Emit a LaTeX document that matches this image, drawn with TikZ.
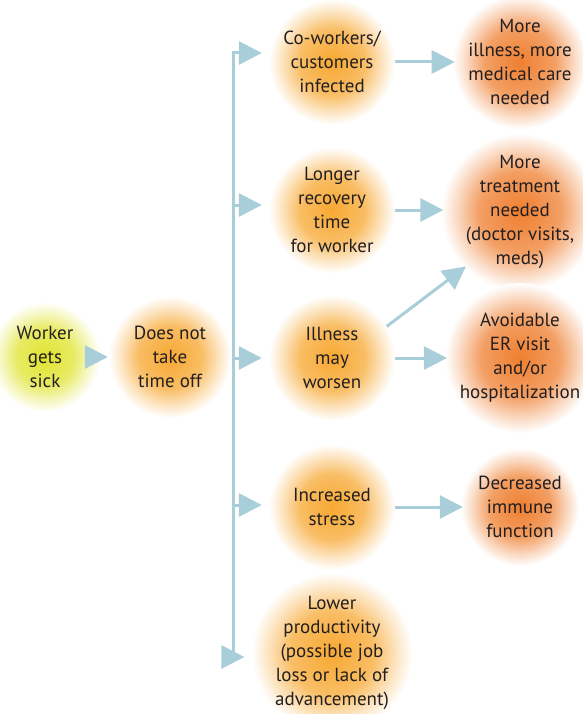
\documentclass[tikz,border=0pt]{standalone}
\usepackage{fontspec}
\setmainfont{PT Sans}
\usepackage{xcolor}
\usetikzlibrary{arrows.meta, positioning}
\definecolor{flowblue}{HTML}{A8CEDA}
\definecolor{inktext}{HTML}{231F20}
\definecolor{lime}{HTML}{E0E430}
\definecolor{amber}{HTML}{F7A832}
\definecolor{tangerine}{HTML}{EF7F30}
\colorlet{limemid}{lime!75!white}
\colorlet{ambermid}{amber!75!white}
\colorlet{tangerinemid}{tangerine!75!white}
\colorlet{limeedge}{lime!30!white}
\colorlet{amberedge}{amber!30!white}
\colorlet{tangerineedge}{tangerine!30!white}
\pgfdeclareradialshading{glowlime}{\pgfpoint{0bp}{0bp}}{color(0bp)=(lime); color(13bp)=(limemid); color(20bp)=(limeedge); color(25bp)=(white); color(50bp)=(white)}
\pgfdeclareradialshading{glowamber}{\pgfpoint{0bp}{0bp}}{color(0bp)=(amber); color(13bp)=(ambermid); color(20bp)=(amberedge); color(25bp)=(white); color(50bp)=(white)}
\pgfdeclareradialshading{glowtangerine}{\pgfpoint{0bp}{0bp}}{color(0bp)=(tangerine); color(13bp)=(tangerinemid); color(20bp)=(tangerineedge); color(25bp)=(white); color(50bp)=(white)}
\tikzset{
  glow/.style = {circle, align=center, inner sep=0pt, text=inktext,
    font=\fontsize{19}{24}\selectfont},
  start/.style = {glow, shading=glowlime, minimum size=110pt},
  cause/.style = {glow, shading=glowamber, minimum size=126pt},
  effect/.style = {glow, shading=glowtangerine, minimum size=118pt},
  flow/.style = {draw=flowblue, line width=3pt,
    -{Triangle[length=23pt, width=23pt]}},
  branch/.style = {flow, shorten >=7pt}
}
\begin{document}
\begin{tikzpicture}[x=1pt, y=-1pt]
\useasboundingbox (0,0) rectangle (582,714);

\node [start] (sick) at (45,357) {Worker\\gets\\sick};
\node [cause, minimum size=122pt] (nooff) at (170,357) {Does not\\take\\time off};

\node [cause] (infect) at (332,62) {Co-workers/\\customers\\infected};
\node [cause] (recov) at (332,210) {Longer\\recovery\\time\\for worker};
\node [cause] (worse) at (332,358) {Illness\\may\\worsen};
\node [cause] (stress) at (332,507) {Increased\\stress};
\node [cause] (prod) at (332,653) {Lower\\productivity\\(possible job\\loss or lack of\\advancement)};

\node [effect] (care) at (520,62) {More\\illness, more\\medical care\\needed};
\node [effect] (treat) at (520,212) {More\\treatment\\needed\\(doctor visits,\\meds)};
\node [effect] (er) at (520,358) {Avoidable\\ER visit\\and/or\\hospitalization};
\node [effect] (immune) at (520,507) {Decreased\\immune\\function};

\coordinate (ttop) at (233,53);
\coordinate (tbot) at (233,657);

\draw [flow, shorten <=0pt, shorten >=1pt] (sick) -- (nooff);
\draw [draw=flowblue, line width=3pt, {Triangle[length=23pt, width=23pt]}-{Triangle[length=23pt, width=23pt]}, shorten <=7pt, shorten >=7pt]
  (ttop -| infect.west) -- (ttop) -- (tbot) -- (tbot -| prod.west);
\draw [branch] (ttop |- 0,205) -- (recov.west |- 0,205);
\draw [branch] (ttop |- worse) -- (worse.west);
\draw [branch] (ttop |- 0,505) -- (stress.west |- 0,505);

\draw [flow, shorten >=-2pt] (infect) -- (care);
\draw [flow, shorten >=-2pt] (recov) -- (treat.west |- recov);
\draw [flow, shorten >=-2pt] (worse) -- (er);
\draw [flow, shorten >=-2pt] (stress) -- (immune);
\draw [flow, shorten >=-2pt] (worse.30) -- (treat.225);
\end{tikzpicture}
\end{document}
